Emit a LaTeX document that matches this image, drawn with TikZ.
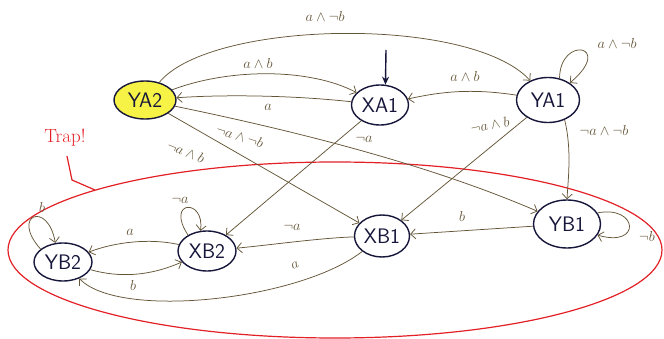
\documentclass[tikz,border=0pt]{standalone}
\usetikzlibrary{shapes.geometric,arrows.meta}
\definecolor{edgec}{RGB}{100,85,55}
\definecolor{nodec}{RGB}{22,22,58}
\definecolor{hl}{RGB}{246,242,70}
\definecolor{trapred}{RGB}{226,32,38}
\begin{document}
\begin{tikzpicture}[x=1pt,y=-1pt,
  st/.style={ellipse,draw=nodec,line width=1.4pt,inner sep=0pt,text=nodec,
     font=\fontsize{21}{21}\selectfont\sffamily},
  tr/.style={draw=edgec,line width=0.75pt,-{Straight Barb[length=5pt,width=10pt]}},
  lb/.style={font=\fontsize{14}{14}\selectfont,text=edgec,inner sep=0.5pt}]
\useasboundingbox (0,0) rectangle (664,339);

% trap region
\draw[trapred,line width=1.2pt] (335,250) ellipse [x radius=327pt, y radius=88pt];
\node[text=trapred,font=\fontsize{19}{19}\selectfont] (trap) at (65,138) {Trap!};
\coordinate (trapend) at (95,190);
\draw[trapred,line width=1.2pt] (trap.south) ++(2,6) coordinate (trapstart) -- (72,180) -- (trapend);

% states
\node[st,fill=hl,minimum width=62pt,minimum height=38pt] (ya2) at (145,100) {YA2};
\node[st,minimum width=57pt,minimum height=40pt] (xa1) at (380,105) {XA1};
\node[st,minimum width=63pt,minimum height=45pt] (ya1) at (548,100) {YA1};
\node[st,minimum width=58pt,minimum height=38pt] (yb2) at (63,262) {YB2};
\node[st,minimum width=58pt,minimum height=40pt] (xb2) at (207,251) {XB2};
\node[st,minimum width=55pt,minimum height=42pt] (xb1) at (382,236) {XB1};
\node[st,minimum width=67pt,minimum height=48pt] (yb1) at (567,224) {YB1};

% initial arrow
\coordinate (init) at (386,50);
\draw[nodec,line width=1.4pt,-{Stealth[length=8pt,width=7pt]}] (init) -- (xa1.75);

% transitions
\draw[tr] (ya2) .. controls (210,20) and (470,15) .. (ya1);
\draw[tr] (ya2) .. controls (230,68) and (310,68) .. (xa1);
\draw[tr] (xa1) .. controls (300,96) and (230,94) .. (ya2);
\draw[tr] (ya1) .. controls (470,88) and (440,92) .. (xa1);
\draw[tr] (ya1.62) .. controls (560,35) and (615,45) .. (ya1.38);
\draw[tr] (ya2) .. controls (300,132) and (430,165) .. (yb1);
\draw[tr] (ya2) -- (xb1);
\draw[tr] (xa1) -- (xb2);
\draw[tr] (ya1) -- (xb1);
\draw[tr] (ya1.-50) .. controls (572,150) and (568,180) .. (yb1.north);
\draw[tr] (yb1) -- (xb1);
\draw[tr] (yb1.20) .. controls (638,205) and (642,248) .. (yb1.-20);
\draw[tr] (xb1) .. controls (320,238) and (270,245) .. (xb2);
\draw[tr] (xb1) .. controls (300,300) and (120,320) .. (yb2);
\draw[tr] (xb2) .. controls (150,238) and (115,242) .. (yb2);
\draw[tr] (yb2) .. controls (120,278) and (150,276) .. (xb2);
\draw[tr] (xb2.140) .. controls (165,200) and (205,198) .. (xb2.108);
\draw[tr] (yb2.150) .. controls (10,215) and (48,200) .. (yb2.112);

% labels
\node[lb] (l1) at (325,17) {$a\wedge\neg b$};
\node[lb] (l2) at (258,64) {$a\wedge b$};
\node[lb] (l3) at (268,107) {$a$};
\node[lb] (l4) at (465,77) {$a\wedge b$};
\node[lb] (l5) at (617,44) {$a\wedge\neg b$};
\node[lb,rotate=-18] (l7) at (240,136) {$\neg a\wedge\neg b$};
\node[lb,rotate=-22] (l8) at (186,152) {$\neg a\wedge b$};
\node[lb] (l9) at (364,139) {$\neg a$};
\node[lb,rotate=12] (l10) at (490,125) {$\neg a\wedge b$};
\node[lb] (l11) at (604,131) {$\neg a\wedge\neg b$};
\node[lb] (l12) at (462,217) {$b$};
\node[lb] (l13) at (647,237) {$\neg b$};
\node[lb] (l14) at (292,227) {$\neg a$};
\node[lb,rotate=20] (l15) at (295,265) {$a$};
\node[lb] (l16) at (130,232) {$a$};
\node[lb] (l17) at (133,285) {$b$};
\node[lb] (l18) at (180,200) {$\neg a$};
\node[lb] (l19) at (42,208) {$b$};
\end{tikzpicture}
\end{document}
